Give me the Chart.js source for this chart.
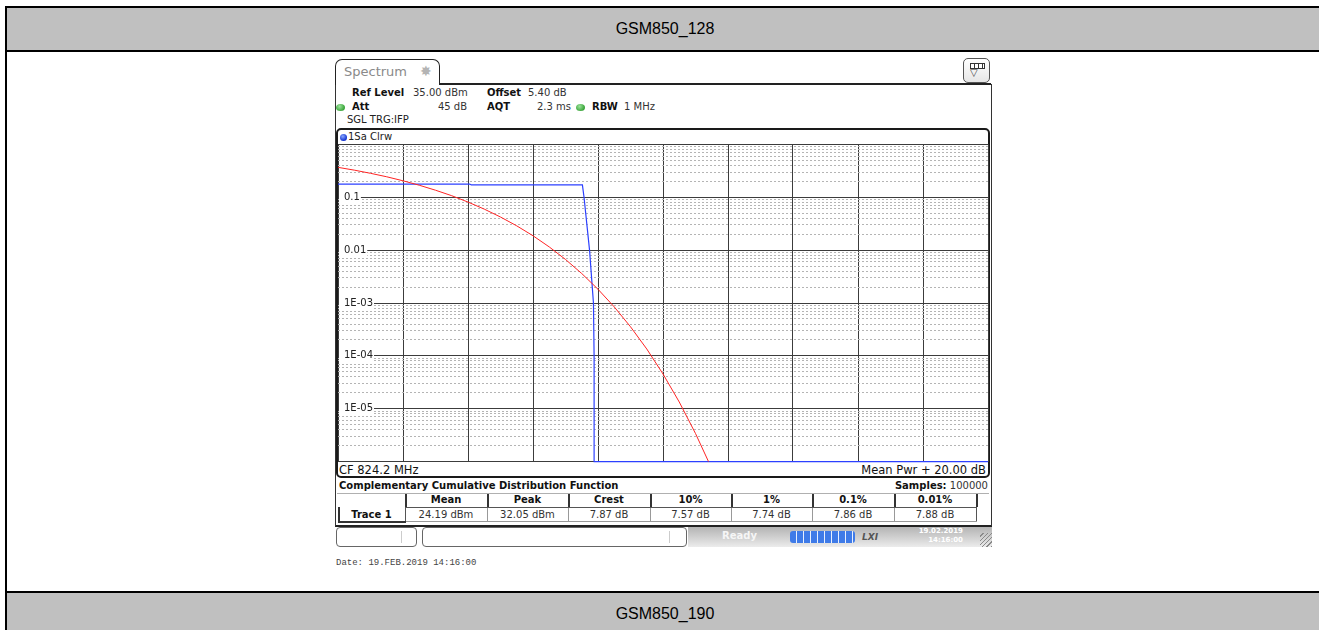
<!DOCTYPE html>
<html><head><meta charset="utf-8">
<script src="https://cdn.jsdelivr.net/npm/chart.js@4.4.1/dist/chart.umd.min.js"></script>
<style>
html,body{margin:0;padding:0;}
body{width:1319px;height:630px;overflow:hidden;background:#fff;position:relative;font-family:"DejaVu Sans",sans-serif;color:#111;}
.a{position:absolute;white-space:nowrap;}
.band{position:absolute;left:5px;width:1318px;box-sizing:border-box;background:#c0c0c0;border-top:2px solid #000;border-left:2px solid #000;font-family:"Liberation Sans",Arial,sans-serif;font-size:16px;text-align:center;color:#000;}
.t10{font-size:10px;line-height:12px;}
.b{font-weight:bold;}
.dot{position:absolute;width:9px;height:7px;border-radius:50%;background:radial-gradient(circle at 40% 35%,#9be39b,#3aa53a 70%);}
.hd{position:absolute;top:493px;height:14px;line-height:14px;font-size:10px;font-weight:bold;text-align:center;}
.vl{position:absolute;top:515px;height:14px;line-height:14px;font-size:10px;text-align:center;transform:translateY(-7px);}
.line{position:absolute;background:#222;}
</style>
</head>
<body>
<div class="band" style="top:6px;height:46px;line-height:42px;border-bottom:2px solid #000;">GSM850_128</div>
<div class="line" style="left:5px;top:52px;width:2px;height:540px;background:#000"></div>
<div class="band" style="top:591px;height:50px;line-height:42px;">GSM850_190</div>

<!-- instrument panel -->
<div class="a" style="left:335px;top:84px;width:655px;height:441px;border-left:1px solid #333;border-right:1px solid #333;border-bottom:2px solid #222;"></div>
<div class="line" style="left:440px;top:83px;width:551px;height:1.5px;"></div>
<div class="a" style="left:335px;top:59px;width:105px;height:26px;box-sizing:border-box;border:1.5px solid #222;border-bottom:none;border-radius:7px 7px 0 0;background:#fff;"></div>
<div class="a" style="left:344px;top:64px;font-size:13px;line-height:15px;color:#8a8a8a;">Spectrum</div>
<div class="a" style="left:420px;top:63px;font-size:14px;line-height:16px;color:#b4b4b4;">✸</div>
<div class="a" style="left:963px;top:58px;width:27px;height:25px;box-sizing:border-box;border:1px solid #555;border-radius:5px;background:linear-gradient(#ffffff,#e6e6e6);"></div>
<div class="a" style="left:970px;top:63px;width:13px;height:4px;border:1px solid #333;background:repeating-linear-gradient(90deg,#fff 0 3px,#333 3px 4px);"></div>
<div class="a" style="left:970px;top:67px;font-size:10px;line-height:12px;color:#333;">▽</div>

<div class="a t10 b" style="left:352px;top:87px;">Ref Level</div>
<div class="a t10" style="left:413px;top:87px;color:#333">35.00 dBm</div>
<div class="a t10 b" style="left:487px;top:87px;">Offset</div>
<div class="a t10" style="left:528px;top:87px;color:#333">5.40 dB</div>
<div class="dot" style="left:336px;top:104px;"></div>
<div class="a t10 b" style="left:352px;top:101px;">Att</div>
<div class="a t10" style="left:437px;top:101px;width:30px;text-align:right;color:#333">45 dB</div>
<div class="a t10 b" style="left:487px;top:101px;">AQT</div>
<div class="a t10" style="left:521px;top:101px;width:50px;text-align:right;color:#333">2.3 ms</div>
<div class="dot" style="left:576px;top:104px;"></div>
<div class="a t10 b" style="left:592px;top:101px;">RBW</div>
<div class="a t10" style="left:624px;top:101px;color:#333">1 MHz</div>
<div class="a t10" style="left:347px;top:114px;color:#222">SGL TRG:IFP</div>

<!-- plot frame -->
<div class="a" style="left:336px;top:128px;width:654px;height:350px;box-sizing:border-box;border:2px solid #1a1a1a;border-radius:5px;background:#fff;"></div>
<div class="a" style="left:340px;top:134px;width:7px;height:7px;border-radius:50%;background:radial-gradient(circle at 40% 35%,#8aa8ff,#1030d0 70%);"></div>
<div class="a t10" style="left:348px;top:131px;color:#222">1Sa Clrw</div>
<div class="a" style="left:339px;top:463px;font-size:11.5px;line-height:14px;color:#111;">CF 824.2 MHz</div>
<div class="a" style="left:786px;top:463px;width:200px;text-align:right;font-size:11.5px;line-height:14px;color:#111;">Mean Pwr + 20.00 dB</div>

<canvas id="c" width="666" height="328" style="position:absolute;left:330px;top:140px;width:666px;height:328px;"></canvas>

<!-- table -->
<div class="a t10 b" style="left:339px;top:480px;">Complementary Cumulative Distribution Function</div>
<div class="a t10" style="left:800px;top:480px;width:188px;text-align:right;"><b>Samples:</b> <span style="color:#333">100000</span></div>
<div class="line" style="left:337px;top:493px;width:652px;height:1px;background:#b0b0b0"></div>
<div id="tbl"></div>

<!-- status bar -->
<div class="a" style="left:336px;top:527px;width:81px;height:20px;box-sizing:border-box;border:1px solid #666;border-radius:4px;background:#fff;"></div>
<div class="line" style="left:401px;top:531px;width:1px;height:12px;background:#ccc"></div>
<div class="a" style="left:422px;top:527px;width:265px;height:20px;box-sizing:border-box;border:1px solid #666;border-radius:4px;background:#fff;"></div>
<div class="line" style="left:669px;top:531px;width:1px;height:12px;background:#ccc"></div>
<div class="a" style="left:688px;top:527px;width:304px;height:20px;background:linear-gradient(#b4b4b4,#d2d2d2 55%,#ececec);"></div>
<div class="a" style="left:980px;top:533px;width:12px;height:14px;background:repeating-linear-gradient(135deg,transparent 0 2px,#8a8a8a 2px 3px);"></div>
<div class="a" style="left:722px;top:530px;font-size:10px;line-height:12px;font-weight:bold;color:#f6f6f6;">Ready</div>
<div class="a" style="left:790px;top:531px;width:65px;height:12px;border-radius:3px;background:repeating-linear-gradient(90deg,#3f7be8 0 6px,#e8f0ff 6px 7px);"></div>
<div class="a" style="left:862px;top:531px;font-size:9px;line-height:12px;font-weight:bold;font-style:italic;color:#555;">LXI</div>
<div class="a" style="left:915px;top:527px;width:48px;text-align:right;font-size:7px;line-height:9px;font-weight:bold;color:#fff;">19.02.2019<br>14:16:00</div>

<div class="a" style="left:336px;top:557px;font-family:'Liberation Mono',monospace;font-size:9px;line-height:12px;color:#444;">Date: 19.FEB.2019  14:16:00</div>

<script>
// ---- data ----
const xGridDb = [0, 2, 4, 6, 8, 10, 12, 14, 16, 18, 20];
const yDecades = [1, 0.1, 0.01, 0.001, 0.0001, 0.00001, 0.000001];
const yDecadeLabels = ['', '0.1', '0.01', '1E-03', '1E-04', '1E-05', ''];

// Gaussian reference (red)
const gaussDb   = [0, 0.5, 1, 1.5, 2, 2.5, 3, 3.5, 4, 4.5, 5, 5.5, 6, 6.5, 7, 7.5, 8, 8.5, 9, 9.5, 10, 10.5, 11, 11.4];
const gaussCcdf = [0.368, 0.326, 0.284, 0.244, 0.205, 0.169, 0.136, 0.107, 0.0811, 0.0597, 0.0423, 0.0288, 0.0187, 0.0115, 0.00666, 0.00361, 0.00182, 0.000843, 0.000355, 0.000135, 0.0000454, 0.0000134, 0.0000034, 0.000001];

// Trace 1 (blue)
const traceDb   = [0, 4.05, 4.1, 7.52, 7.57, 7.74, 7.86, 7.88, 7.88, 20];
const traceCcdf = [0.178, 0.178, 0.172, 0.172, 0.1, 0.01, 0.001, 0.0001, 0.000001, 0.000001];

// Table
const tblHeads  = ['Mean', 'Peak', 'Crest', '10%', '1%', '0.1%', '0.01%'];
const tblValues = ['24.19 dBm', '32.05 dBm', '7.87 dB', '7.57 dB', '7.74 dB', '7.86 dB', '7.88 dB'];
const tblEdges  = [405, 487, 568, 650, 731, 812, 894, 976];

// ---- table DOM ----
(function(){
  const t = document.getElementById('tbl');
  let h = '';
  for (let i = 0; i < tblHeads.length; i++) {
    const l = tblEdges[i], w = tblEdges[i+1] - l;
    h += `<div class="hd" style="left:${l}px;width:${w}px">${tblHeads[i]}</div>`;
    h += `<div class="vl" style="left:${l}px;width:${w}px;color:#333">${tblValues[i]}</div>`;
  }
  tblEdges.forEach((x,i) => {
    h += `<div class="line" style="left:${x}px;top:494px;width:1.5px;height:13px;background:#333"></div>`;
    h += `<div class="line" style="left:${x}px;top:507px;width:1px;height:15px;background:${i===0||i===tblEdges.length-1?'#555':'#999'}"></div>`;
  });
  h += `<div class="line" style="left:405px;top:507px;width:572px;height:1px;background:#555"></div>`;
  h += `<div class="line" style="left:405px;top:521px;width:572px;height:1px;background:#999"></div>`;
  h += `<div class="line" style="left:338px;top:507px;width:1.5px;height:16px;background:#333"></div>`;
  h += `<div class="line" style="left:338px;top:521px;width:68px;height:1.5px;background:#333"></div>`;
  h += `<div class="vl b" style="left:338px;width:67px;">Trace 1</div>`;
  t.innerHTML = h;
})();

// ---- chart ----
const isDecade = v => yDecades.some(d => Math.abs(Math.log10(v) - Math.log10(d)) < 1e-6);
const decadeLabel = v => { const i = yDecades.findIndex(d => Math.abs(Math.log10(v) - Math.log10(d)) < 1e-6); return i < 0 ? '' : yDecadeLabels[i]; };

new Chart(document.getElementById('c'), {
  type: 'line',
  data: {
    datasets: [
      { label: 'Gaussian', data: gaussDb.map((x, i) => ({ x, y: gaussCcdf[i] })), borderColor: '#ff2424', borderWidth: 1, pointRadius: 0, tension: 0, clip: 4 },
      { label: 'Trace 1', data: traceDb.map((x, i) => ({ x, y: traceCcdf[i] })), borderColor: '#2c40ff', borderWidth: 1.2, pointRadius: 0, tension: 0, clip: 4 }
    ]
  },
  options: {
    responsive: false, animation: false, devicePixelRatio: 1,
    layout: { padding: { left: 8, right: 8, top: 4.4, bottom: 6.4 } },
    plugins: { legend: { display: false }, tooltip: { enabled: false } },
    scales: {
      x: {
        type: 'linear', min: 0, max: 20,
        afterBuildTicks: s => { s.ticks = xGridDb.map(v => ({ value: v })); },
        afterFit: s => { s.height = 0; s.paddingLeft = 0; s.paddingRight = 0; s.paddingTop = 0; s.paddingBottom = 0; },
        ticks: { display: false },
        grid: { color: '#3c3c3c', lineWidth: 1, drawTicks: false },
        border: { display: false }
      },
      y: {
        type: 'logarithmic', min: 1e-6, max: 1,
        afterBuildTicks: s => {
          const t = [];
          for (let i = yDecades.length - 1; i >= 0; i--) {
            const d = yDecades[i];
            t.push({ value: d });
            if (i > 0) for (let k = 2; k <= 9; k++) t.push({ value: d * k });
          }
          s.ticks = t;
        },
        afterFit: s => { s.width = 0; s.paddingLeft = 0; s.paddingRight = 0; s.paddingTop = 0; s.paddingBottom = 0; },
        ticks: {
          mirror: true, z: 1, padding: 6, autoSkip: false,
          font: { family: 'DejaVu Sans', size: 10 }, color: '#222',
          callback: v => decadeLabel(v),
          showLabelBackdrop: true,
          backdropColor: c => (decadeLabel(c.tick.value) ? '#ffffff' : 'rgba(0,0,0,0)'),
          backdropPadding: { left: 5, right: 1, top: 0, bottom: 0 }
        },
        grid: {
          drawTicks: false, lineWidth: 1,
          color: c => (isDecade(c.tick.value) ? '#3c3c3c' : '#b4b4b4')
        },
        border: { display: false, dash: c => (c.tick && isDecade(c.tick.value) ? [] : [2, 2]) }
      }
    }
  }
});
</script>
</body></html>
